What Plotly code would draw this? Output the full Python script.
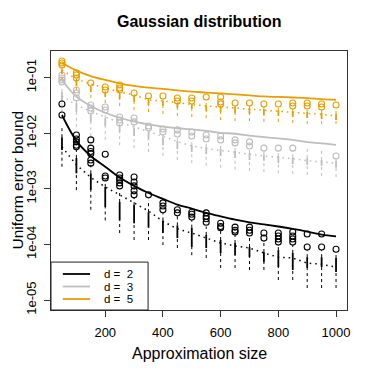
import plotly.graph_objects as go

# approximation sizes (x positions of the boxes)
sizes = [50, 100, 150, 200, 250, 300, 350, 400, 450, 500,
         550, 600, 650, 700, 750, 800, 850, 900, 950, 1000]
dims = [2, 3, 5]
colors = ["#000000", "#BEBEBE", "#E69F00"]

# ---- d = 2 ---------------------------------------------------------------
bound_d2 = [0.0213, 0.0073, 0.0039, 0.0025, 0.0016, 0.00113, 0.00084, 0.00066, 0.00052, 0.00044,
            0.00037, 0.00032, 0.00028, 0.00025, 0.00023, 0.00021, 0.00019, 0.00017, 0.00015, 0.00014]
mean_d2 = [0.0057, 0.0027, 0.0016, 0.00108, 0.00078, 0.00056, 0.0004, 0.00026, 0.00019, 0.00016,
           0.00013, 0.000106, 0.000094, 0.000086, 0.00007, 0.000059, 0.000057, 0.000046, 0.000044, 0.000039]
upper_d2 = [0.0124, 0.005, 0.0027, 0.00145, 0.00095, 0.00069, 0.00063, 0.00037, 0.00032, 0.00027,
            0.00021, 0.00018, 0.000154, 0.000142, 0.00012, 0.000102, 0.000097, 0.000079, 0.000079, 0.000073]
q3_d2 = [0.0085, 0.0036, 0.0019, 0.00108, 0.00058, 0.00051, 0.00038, 0.00027, 0.00022, 0.0002,
         0.000148, 0.00012, 0.000106, 0.00009, 0.000073, 0.000079, 0.00007, 0.000059, 0.000059, 0.000057]
q1_d2 = [0.005, 0.0019, 0.00095, 0.00047, 0.00027, 0.00024, 0.0002, 0.00016, 0.00013, 0.00009,
         0.000086, 0.00007, 0.000064, 0.000059, 0.000048, 0.000039, 0.0000346, 0.0000376, 0.000039, 0.0000318]
lower_d2 = [0.0025, 0.00095, 0.00042, 0.00027, 0.00016, 0.00012, 0.00012, 0.000097, 0.000086, 0.000064,
            0.000057, 0.0000376, 0.0000376, 0.0000346, 0.0000346, 0.0000229, 0.0000229, 0.0000164, 0.0000164, 0.0000164]
out_x_d2 = [50, 50, 100, 100, 100, 100, 100, 150, 150, 150, 150, 150, 150, 200, 200, 200,
            250, 250, 250, 250, 250, 300, 300, 300, 300, 300, 350, 400, 400, 400, 450, 450,
            500, 500, 500, 550, 550, 550, 550, 600, 600, 600, 650, 650, 650, 700, 700, 700,
            750, 750, 800, 800, 800, 800, 850, 850, 850, 850, 900, 900, 950, 950, 1000]
out_y_d2 = [0.0337, 0.0213, 0.0093, 0.0079, 0.007, 0.0061, 0.0057, 0.0076, 0.0054, 0.0047, 0.0043,
            0.0033, 0.0029, 0.0042, 0.0017, 0.00157, 0.00177, 0.00157, 0.00145, 0.00128, 0.00113,
            0.00163, 0.00133, 0.00113, 0.00092, 0.00078, 0.00078, 0.00056, 0.00049, 0.00042,
            0.00042, 0.00037, 0.00038, 0.00035, 0.00031, 0.00037, 0.00032, 0.00029, 0.00025,
            0.00024, 0.00021, 0.0002, 0.000205, 0.00018, 0.000167, 0.000205, 0.00018, 0.00016,
            0.00016, 0.00013, 0.00016, 0.000142, 0.000125, 0.00011, 0.000167, 0.000142, 0.000125,
            0.00011, 0.000154, 0.00009, 0.000154, 0.00009, 0.000082]

# ---- d = 3 ---------------------------------------------------------------
bound_d3 = [0.091, 0.0455, 0.031, 0.0234, 0.019, 0.0162, 0.0145, 0.0132, 0.0123, 0.0117,
            0.011, 0.0102, 0.0098, 0.0091, 0.0085, 0.0081, 0.0076, 0.0069, 0.0066, 0.0062]
mean_d3 = [0.0469, 0.0323, 0.0247, 0.0194, 0.0156, 0.013, 0.0108, 0.0088, 0.0071, 0.0059,
           0.0053, 0.0049, 0.0045, 0.0041, 0.0039, 0.0037, 0.0035, 0.0032, 0.003, 0.0029]
upper_d3 = [0.071, 0.0397, 0.0232, 0.0242, 0.0147, 0.0147, 0.011, 0.0097, 0.0089, 0.0079,
            0.007, 0.0064, 0.0061, 0.0052, 0.005, 0.005, 0.005, 0.0054, 0.0052, 0.0036]
q3_d3 = [0.0553, 0.0351, 0.0213, 0.0188, 0.0141, 0.0124, 0.0105, 0.0085, 0.0073, 0.0061,
         0.0057, 0.0052, 0.0048, 0.0044, 0.0041, 0.0039, 0.0037, 0.0036, 0.0033, 0.0032]
q1_d3 = [0.0366, 0.0242, 0.016, 0.0135, 0.0105, 0.0089, 0.0076, 0.0061, 0.0052, 0.0046,
         0.0042, 0.0039, 0.0036, 0.0033, 0.0032, 0.0029, 0.0028, 0.0027, 0.0026, 0.0024]
lower_d3 = [0.0242, 0.013, 0.0089, 0.0076, 0.0061, 0.0054, 0.0046, 0.0039, 0.0033, 0.0029,
            0.0026, 0.0024, 0.0022, 0.0021, 0.002, 0.0019, 0.00185, 0.00177, 0.0017, 0.00163]
out_x_d3 = [50, 50, 50, 50, 100, 100, 100, 150, 150, 150, 200, 200, 250, 250, 250, 300, 300,
            350, 350, 400, 400, 450, 450, 500, 500, 550, 550, 600, 600, 650, 650, 700, 700,
            750, 800, 850, 1000]
out_y_d3 = [0.112, 0.0989, 0.091, 0.0837, 0.0601, 0.053, 0.0431, 0.0323, 0.0285, 0.0252,
            0.0297, 0.0262, 0.0196, 0.0173, 0.0153, 0.0188, 0.016, 0.0135, 0.0124, 0.0119,
            0.0105, 0.0115, 0.0097, 0.0105, 0.0089, 0.0093, 0.0079, 0.0089, 0.0076, 0.0076,
            0.0067, 0.007, 0.0059, 0.0054, 0.0054, 0.0054, 0.0039]

# ---- d = 5 ---------------------------------------------------------------
bound_d5 = [0.186, 0.134, 0.107, 0.091, 0.079, 0.071, 0.066, 0.063, 0.059, 0.056,
            0.054, 0.052, 0.05, 0.048, 0.046, 0.045, 0.044, 0.043, 0.041, 0.04]
mean_d5 = [0.137, 0.0948, 0.077, 0.0653, 0.0553, 0.0489, 0.0397, 0.038, 0.035, 0.033,
           0.031, 0.0297, 0.0285, 0.0273, 0.0262, 0.0252, 0.0236, 0.0227, 0.0218, 0.0205]
upper_d5 = [0.156, 0.0989, 0.071, 0.0576, 0.0553, 0.0489, 0.0431, 0.0413, 0.035, 0.0337,
            0.038, 0.031, 0.031, 0.031, 0.0297, 0.0285, 0.0273, 0.0262, 0.0262, 0.0285]
q3_d5 = [0.142, 0.091, 0.068, 0.0553, 0.0509, 0.0469, 0.0397, 0.038, 0.035, 0.0337,
         0.031, 0.031, 0.0297, 0.0285, 0.0273, 0.0262, 0.0252, 0.0242, 0.0232, 0.0222]
q1_d5 = [0.117, 0.071, 0.0553, 0.045, 0.0413, 0.0366, 0.0323, 0.031, 0.0285, 0.0273,
         0.0252, 0.0242, 0.0232, 0.0222, 0.0213, 0.0205, 0.0196, 0.0188, 0.018, 0.0173]
lower_d5 = [0.091, 0.0601, 0.0431, 0.035, 0.031, 0.0262, 0.0242, 0.0222, 0.0205, 0.0196,
            0.0188, 0.0173, 0.0166, 0.0166, 0.016, 0.016, 0.0153, 0.0147, 0.0147, 0.0147]
out_x_d5 = [50, 50, 50, 100, 100, 100, 150, 200, 200, 250, 250, 250, 300, 350, 400, 450, 450,
            500, 500, 550, 600, 600, 600, 650, 700, 750, 800, 850, 850, 900, 900, 950, 950, 1000]
out_y_d5 = [0.2, 0.184, 0.169, 0.122, 0.112, 0.0989, 0.08, 0.068, 0.0601, 0.074, 0.0653, 0.0601,
            0.053, 0.0469, 0.0469, 0.0431, 0.038, 0.0431, 0.038, 0.045, 0.045, 0.0366, 0.0337,
            0.035, 0.035, 0.0337, 0.0337, 0.035, 0.031, 0.035, 0.031, 0.0337, 0.0297, 0.0323]

series = [
    (bound_d2, mean_d2, upper_d2, q3_d2, q1_d2, lower_d2, out_x_d2, out_y_d2),
    (bound_d3, mean_d3, upper_d3, q3_d3, q1_d3, lower_d3, out_x_d3, out_y_d3),
    (bound_d5, mean_d5, upper_d5, q3_d5, q1_d5, lower_d5, out_x_d5, out_y_d5),
]

FONT = "Liberation Sans, Arial, Helvetica, sans-serif"


def segments(xs, a, b):
    """Vertical segments x:(a->b) separated by gaps."""
    sx, sy = [], []
    for x, lo, hi in zip(xs, a, b):
        sx += [x, x, None]
        sy += [lo, hi, None]
    return sx, sy


fig = go.Figure()

# grey first, then orange, black on top
for i in [1, 2, 0]:
    bound, mean, upper, q3, q1, lower, ox, oy = series[i]
    col = colors[i]
    wx, wy = segments(sizes, q3, upper)
    fig.add_trace(go.Scatter(x=wx, y=wy, mode="lines", hoverinfo="skip",
                             line=dict(color=col, width=1, dash="3px,3px")))
    wx, wy = segments(sizes, lower, q1)
    fig.add_trace(go.Scatter(x=wx, y=wy, mode="lines", hoverinfo="skip",
                             line=dict(color=col, width=1, dash="3px,3px")))
    bx, by = segments(sizes, q1, q3)
    fig.add_trace(go.Scatter(x=bx, y=by, mode="lines", hoverinfo="skip",
                             line=dict(color=col, width=1.8)))
    fig.add_trace(go.Scatter(x=sizes, y=mean, mode="lines",
                             line=dict(color=col, width=1.5, dash="1.5px,4px")))
    fig.add_trace(go.Scatter(x=ox, y=oy, mode="markers",
                             marker=dict(symbol="circle-open", size=6, color=col,
                                         line=dict(width=1.1, color=col))))
    fig.add_trace(go.Scatter(x=sizes, y=bound, mode="lines", line_shape="spline",
                             line=dict(color=col, width=1.8)))

# hand-drawn legend box in the lower-left corner (R style)
shapes = [dict(type="rect", xref="paper", yref="paper", x0=0, x1=0.328, y0=0, y1=0.185,
               line=dict(color="#222", width=1), fillcolor="white", layer="above")]
annotations = []
rows = [0.139, 0.0907, 0.0425]
for d, col, yy in zip(dims, colors, rows):
    shapes.append(dict(type="line", xref="paper", yref="paper", x0=0.040, x1=0.132,
                       y0=yy, y1=yy, line=dict(color=col, width=1.8), layer="above"))
    annotations.append(dict(xref="paper", yref="paper", x=0.172, y=yy, xanchor="left",
                            yanchor="middle", showarrow=False,
                            text=f"d =\u00a0 {d}", font=dict(size=11.5, color="black")))

annotations += [
    dict(xref="paper", yref="paper", x=0.5, y=1, yshift=30, showarrow=False,
         text="<b>Gaussian distribution</b>", font=dict(size=16, color="black"),
         xanchor="center", yanchor="middle"),
    dict(xref="paper", yref="paper", x=0.5, y=0, yshift=-43, showarrow=False,
         text="Approximation size", font=dict(size=16, color="black"),
         xanchor="center", yanchor="middle"),
    dict(xref="paper", yref="paper", x=0, y=0.5, xshift=-34, showarrow=False,
         text="Uniform error bound", textangle=-90, font=dict(size=15.5, color="black"),
         xanchor="center", yanchor="middle"),
]

# page body adds an 8px offset, so the figure is 8px smaller on the top/left
fig.update_layout(
    width=366, height=366,
    margin=dict(l=43, r=27, t=43, b=64),
    paper_bgcolor="white", plot_bgcolor="white",
    showlegend=False,
    font=dict(family=FONT, size=13, color="black"),
    shapes=shapes, annotations=annotations,
)
fig.update_xaxes(
    range=[12, 1038], showgrid=False, zeroline=False,
    tickvals=[200, 400, 600, 800, 1000],
    ticks="outside", ticklen=6, tickcolor="#333", tickwidth=1,
    showline=True, mirror=True, linecolor="#333", linewidth=1,
    tickfont=dict(size=13, color="black"), ticklabelstandoff=4,
)
fig.update_yaxes(
    type="log", range=[-5.18, -0.52], showgrid=False, zeroline=False,
    tickvals=[1e-5, 1e-4, 1e-3, 1e-2, 1e-1],
    ticktext=["1e-05", "1e-04", "1e-03", "1e-02", "1e-01"],
    tickangle=-90,
    ticks="outside", ticklen=6, tickcolor="#333", tickwidth=1,
    showline=True, mirror=True, linecolor="#333", linewidth=1,
    tickfont=dict(size=13, color="black"), ticklabelstandoff=3,
)

fig.write_html("out.html")
